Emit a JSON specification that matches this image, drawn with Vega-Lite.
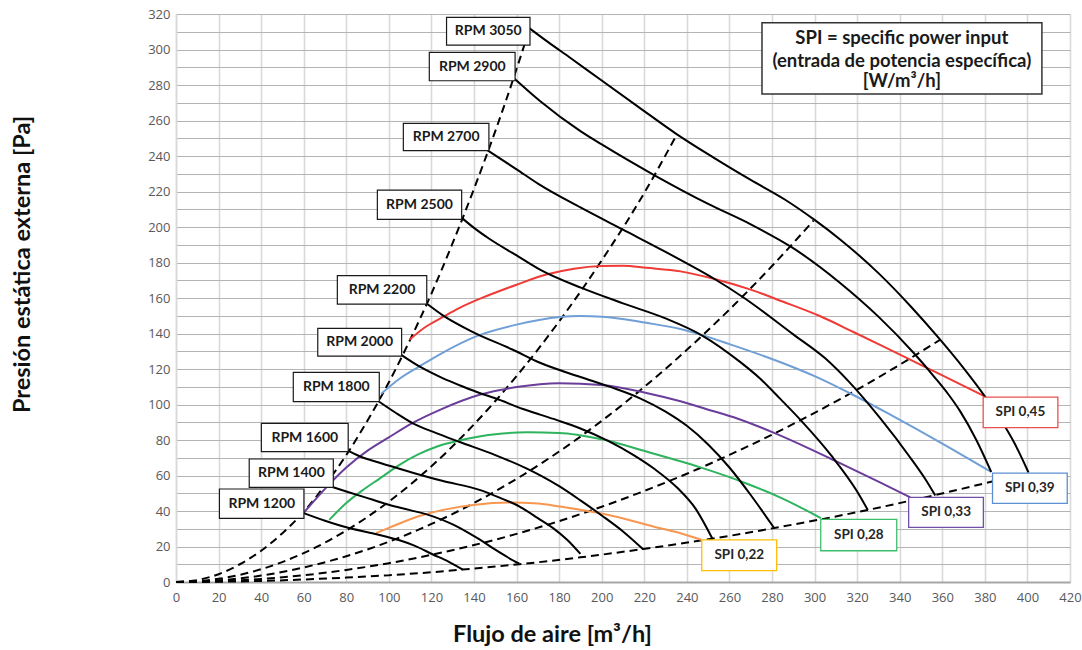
{
  "$schema": "https://vega.github.io/schema/vega-lite/v6.json",
  "width": 894,
  "height": 568,
  "autosize": {"type": "none"},
  "padding": {"left": 176, "top": 14, "right": 12, "bottom": 68},
  "background": "white",
  "config": {
    "view": {"stroke": null},
    "font": "Lato",
    "axis": {"ticks": false, "labelFont": "Open Sans", "labelFontSize": 13, "labelColor": "#595959", "titleFont": "Lato", "titleFontWeight": "bold", "titleFontSize": 23.5, "titleColor": "#111111"},
    "axisX": {"gridColor": "#d9d9d9", "gridWidth": 1.6, "domainColor": "#a6a6a6", "domainWidth": 2, "labelPadding": 9},
    "axisY": {"gridColor": "#b4b4b4", "gridWidth": 1.2, "domainColor": "#d9d9d9", "domainWidth": 1.5, "labelPadding": 6}
  },
  "datasets": {
    "sys": [
      {"c": "D1", "x": 0, "y": 0}, {"c": "D1", "x": 10, "y": 1.1}, {"c": "D1", "x": 20, "y": 4.4}, {"c": "D1", "x": 30, "y": 10}, {"c": "D1", "x": 40, "y": 17.6}, {"c": "D1", "x": 50, "y": 27.5}, {"c": "D1", "x": 60, "y": 39.5}, {"c": "D1", "x": 70, "y": 54.5}, {"c": "D1", "x": 80, "y": 71.5}, {"c": "D1", "x": 90, "y": 91}, {"c": "D1", "x": 100, "y": 112.5}, {"c": "D1", "x": 110, "y": 136.5}, {"c": "D1", "x": 120, "y": 162.5}, {"c": "D1", "x": 130, "y": 191}, {"c": "D1", "x": 140, "y": 221.5}, {"c": "D1", "x": 150, "y": 254}, {"c": "D1", "x": 160, "y": 289}, {"c": "D1", "x": 166, "y": 311.5},
      {"c": "D2", "x": 0, "y": 0}, {"c": "D2", "x": 20, "y": 1.8}, {"c": "D2", "x": 40, "y": 7.2}, {"c": "D2", "x": 60, "y": 16.3}, {"c": "D2", "x": 80, "y": 29}, {"c": "D2", "x": 100, "y": 45.3}, {"c": "D2", "x": 120, "y": 65.2}, {"c": "D2", "x": 140, "y": 88.8}, {"c": "D2", "x": 160, "y": 116}, {"c": "D2", "x": 180, "y": 146.8}, {"c": "D2", "x": 200, "y": 181.2}, {"c": "D2", "x": 220, "y": 219.2}, {"c": "D2", "x": 235, "y": 251.5},
      {"c": "D3", "x": 0, "y": 0}, {"c": "D3", "x": 20, "y": 0.9}, {"c": "D3", "x": 40, "y": 3.6}, {"c": "D3", "x": 60, "y": 8.2}, {"c": "D3", "x": 80, "y": 14.5}, {"c": "D3", "x": 100, "y": 22.7}, {"c": "D3", "x": 120, "y": 32.7}, {"c": "D3", "x": 140, "y": 44.5}, {"c": "D3", "x": 160, "y": 58.1}, {"c": "D3", "x": 180, "y": 73.5}, {"c": "D3", "x": 200, "y": 90.8}, {"c": "D3", "x": 220, "y": 109.9}, {"c": "D3", "x": 240, "y": 130.8}, {"c": "D3", "x": 260, "y": 153.5}, {"c": "D3", "x": 280, "y": 178}, {"c": "D3", "x": 299.5, "y": 203.6},
      {"c": "D4", "x": 0, "y": 0}, {"c": "D4", "x": 20, "y": 0.4}, {"c": "D4", "x": 40, "y": 1.7}, {"c": "D4", "x": 60, "y": 3.8}, {"c": "D4", "x": 80, "y": 6.8}, {"c": "D4", "x": 100, "y": 10.6}, {"c": "D4", "x": 120, "y": 15.3}, {"c": "D4", "x": 140, "y": 20.8}, {"c": "D4", "x": 160, "y": 27.1}, {"c": "D4", "x": 180, "y": 34.3}, {"c": "D4", "x": 200, "y": 42.4}, {"c": "D4", "x": 220, "y": 51.3}, {"c": "D4", "x": 240, "y": 61}, {"c": "D4", "x": 260, "y": 71.6}, {"c": "D4", "x": 280, "y": 83}, {"c": "D4", "x": 300, "y": 95.3}, {"c": "D4", "x": 320, "y": 108.4}, {"c": "D4", "x": 340, "y": 122.4}, {"c": "D4", "x": 359, "y": 136.5},
      {"c": "D5", "x": 0, "y": 0}, {"c": "D5", "x": 20, "y": 0.15}, {"c": "D5", "x": 40, "y": 0.6}, {"c": "D5", "x": 60, "y": 1.4}, {"c": "D5", "x": 80, "y": 2.5}, {"c": "D5", "x": 100, "y": 3.85}, {"c": "D5", "x": 120, "y": 5.5}, {"c": "D5", "x": 134.7, "y": 7}, {"c": "D5", "x": 161.3, "y": 10}, {"c": "D5", "x": 190, "y": 13.9}, {"c": "D5", "x": 219.6, "y": 18.6}, {"c": "D5", "x": 252, "y": 24.4}, {"c": "D5", "x": 281, "y": 30.4}, {"c": "D5", "x": 325, "y": 40.6}, {"c": "D5", "x": 356.7, "y": 49}, {"c": "D5", "x": 383.5, "y": 56.6}
    ],
    "rpm": [
      {"c": "1200", "x": 60, "y": 38.8}, {"c": "1200", "x": 70, "y": 34.5}, {"c": "1200", "x": 80, "y": 30.8}, {"c": "1200", "x": 90, "y": 28}, {"c": "1200", "x": 95.6, "y": 26.5}, {"c": "1200", "x": 105, "y": 23.5}, {"c": "1200", "x": 112, "y": 20.5}, {"c": "1200", "x": 120.7, "y": 15.5}, {"c": "1200", "x": 128, "y": 11.5}, {"c": "1200", "x": 134.7, "y": 7},
      {"c": "1400", "x": 73.5, "y": 53.5}, {"c": "1400", "x": 80, "y": 51}, {"c": "1400", "x": 92.5, "y": 46.3}, {"c": "1400", "x": 100, "y": 43.5}, {"c": "1400", "x": 110, "y": 40.5}, {"c": "1400", "x": 120.7, "y": 37}, {"c": "1400", "x": 130, "y": 32.5}, {"c": "1400", "x": 137, "y": 28}, {"c": "1400", "x": 142.6, "y": 24}, {"c": "1400", "x": 150, "y": 18.2}, {"c": "1400", "x": 156, "y": 13.8}, {"c": "1400", "x": 161.3, "y": 10.3},
      {"c": "1600", "x": 80.8, "y": 74}, {"c": "1600", "x": 86, "y": 71}, {"c": "1600", "x": 96, "y": 67}, {"c": "1600", "x": 110, "y": 62}, {"c": "1600", "x": 125, "y": 57}, {"c": "1600", "x": 142.6, "y": 51.9}, {"c": "1600", "x": 152, "y": 47.5}, {"c": "1600", "x": 161.4, "y": 42.5}, {"c": "1600", "x": 170, "y": 36}, {"c": "1600", "x": 177, "y": 30.5}, {"c": "1600", "x": 184, "y": 23.5}, {"c": "1600", "x": 190, "y": 15.8},
      {"c": "1800", "x": 95.3, "y": 101.7}, {"c": "1800", "x": 103, "y": 95.5}, {"c": "1800", "x": 111.3, "y": 89.4}, {"c": "1800", "x": 122, "y": 84}, {"c": "1800", "x": 133, "y": 79}, {"c": "1800", "x": 150, "y": 71.5}, {"c": "1800", "x": 164.6, "y": 64}, {"c": "1800", "x": 172, "y": 59.5}, {"c": "1800", "x": 180, "y": 54}, {"c": "1800", "x": 190, "y": 46}, {"c": "1800", "x": 200, "y": 37.5}, {"c": "1800", "x": 210, "y": 28.5}, {"c": "1800", "x": 219.6, "y": 18.3},
      {"c": "2000", "x": 105.8, "y": 128}, {"c": "2000", "x": 115, "y": 121}, {"c": "2000", "x": 125, "y": 115}, {"c": "2000", "x": 135, "y": 110}, {"c": "2000", "x": 142.6, "y": 106.5}, {"c": "2000", "x": 150, "y": 103.5}, {"c": "2000", "x": 163, "y": 97.5}, {"c": "2000", "x": 171, "y": 94.3}, {"c": "2000", "x": 180, "y": 90.8}, {"c": "2000", "x": 190, "y": 86.5}, {"c": "2000", "x": 203, "y": 79.5}, {"c": "2000", "x": 215, "y": 71.5}, {"c": "2000", "x": 225, "y": 63.5}, {"c": "2000", "x": 236, "y": 52.5}, {"c": "2000", "x": 244, "y": 41.5}, {"c": "2000", "x": 252, "y": 24.4},
      {"c": "2200", "x": 117.6, "y": 157}, {"c": "2200", "x": 125, "y": 150.5}, {"c": "2200", "x": 140, "y": 140.5}, {"c": "2200", "x": 158, "y": 131}, {"c": "2200", "x": 171, "y": 123.5}, {"c": "2200", "x": 190, "y": 115.5}, {"c": "2200", "x": 205, "y": 109.5}, {"c": "2200", "x": 218, "y": 103.5}, {"c": "2200", "x": 230, "y": 96}, {"c": "2200", "x": 240, "y": 88}, {"c": "2200", "x": 250, "y": 77.5}, {"c": "2200", "x": 260, "y": 64.5}, {"c": "2200", "x": 270, "y": 49}, {"c": "2200", "x": 281, "y": 30.4},
      {"c": "2500", "x": 134.4, "y": 205}, {"c": "2500", "x": 140, "y": 199.5}, {"c": "2500", "x": 147, "y": 193.5}, {"c": "2500", "x": 160, "y": 184}, {"c": "2500", "x": 171, "y": 176}, {"c": "2500", "x": 190.5, "y": 165.7}, {"c": "2500", "x": 210, "y": 157}, {"c": "2500", "x": 230, "y": 148.5}, {"c": "2500", "x": 247, "y": 139}, {"c": "2500", "x": 265, "y": 124}, {"c": "2500", "x": 274.5, "y": 114.5}, {"c": "2500", "x": 284, "y": 103}, {"c": "2500", "x": 294, "y": 90.5}, {"c": "2500", "x": 308, "y": 71}, {"c": "2500", "x": 320, "y": 51}, {"c": "2500", "x": 325, "y": 40.6},
      {"c": "2700", "x": 146.4, "y": 243.2}, {"c": "2700", "x": 160, "y": 232.5}, {"c": "2700", "x": 170.6, "y": 224}, {"c": "2700", "x": 190, "y": 211}, {"c": "2700", "x": 210, "y": 198.5}, {"c": "2700", "x": 230, "y": 186}, {"c": "2700", "x": 240, "y": 179.5}, {"c": "2700", "x": 253, "y": 170.7}, {"c": "2700", "x": 266.6, "y": 160.3}, {"c": "2700", "x": 290, "y": 139.5}, {"c": "2700", "x": 305, "y": 126}, {"c": "2700", "x": 316, "y": 113}, {"c": "2700", "x": 331, "y": 92}, {"c": "2700", "x": 345, "y": 70}, {"c": "2700", "x": 352, "y": 58}, {"c": "2700", "x": 356.7, "y": 48.7},
      {"c": "2900", "x": 158.9, "y": 283.7}, {"c": "2900", "x": 171, "y": 271}, {"c": "2900", "x": 190, "y": 254}, {"c": "2900", "x": 200, "y": 246.5}, {"c": "2900", "x": 224.4, "y": 229.4}, {"c": "2900", "x": 250, "y": 213}, {"c": "2900", "x": 270, "y": 201.5}, {"c": "2900", "x": 289.4, "y": 188.5}, {"c": "2900", "x": 312, "y": 168.5}, {"c": "2900", "x": 330, "y": 149.5}, {"c": "2900", "x": 346.6, "y": 129}, {"c": "2900", "x": 357, "y": 114.5}, {"c": "2900", "x": 363, "y": 105.5}, {"c": "2900", "x": 368.5, "y": 96}, {"c": "2900", "x": 376, "y": 80}, {"c": "2900", "x": 383, "y": 62},
      {"c": "3050", "x": 166, "y": 312}, {"c": "3050", "x": 175, "y": 304}, {"c": "3050", "x": 185, "y": 295.5}, {"c": "3050", "x": 200, "y": 282.5}, {"c": "3050", "x": 218, "y": 267}, {"c": "3050", "x": 235, "y": 252.5}, {"c": "3050", "x": 252, "y": 239.5}, {"c": "3050", "x": 270, "y": 226.5}, {"c": "3050", "x": 286, "y": 215.5}, {"c": "3050", "x": 300, "y": 204}, {"c": "3050", "x": 312, "y": 193}, {"c": "3050", "x": 330, "y": 174}, {"c": "3050", "x": 345, "y": 155.5}, {"c": "3050", "x": 359, "y": 136.5}, {"c": "3050", "x": 370, "y": 120.5}, {"c": "3050", "x": 380, "y": 104.6}, {"c": "3050", "x": 387.4, "y": 91.5}, {"c": "3050", "x": 394, "y": 78}, {"c": "3050", "x": 400.5, "y": 61.7}
    ],
    "spi": [
      {"c": "SPI 0,45", "x": 109.7, "y": 136.5}, {"c": "SPI 0,45", "x": 117, "y": 143.5}, {"c": "SPI 0,45", "x": 125.4, "y": 149.3}, {"c": "SPI 0,45", "x": 133, "y": 154.3}, {"c": "SPI 0,45", "x": 142.6, "y": 159.5}, {"c": "SPI 0,45", "x": 160, "y": 167.5}, {"c": "SPI 0,45", "x": 174, "y": 173.2}, {"c": "SPI 0,45", "x": 187, "y": 176.5}, {"c": "SPI 0,45", "x": 199.8, "y": 178}, {"c": "SPI 0,45", "x": 210, "y": 178.2}, {"c": "SPI 0,45", "x": 221, "y": 177}, {"c": "SPI 0,45", "x": 237, "y": 175}, {"c": "SPI 0,45", "x": 253, "y": 170.7}, {"c": "SPI 0,45", "x": 270, "y": 164.7}, {"c": "SPI 0,45", "x": 285, "y": 158}, {"c": "SPI 0,45", "x": 302.7, "y": 149.7}, {"c": "SPI 0,45", "x": 318, "y": 141}, {"c": "SPI 0,45", "x": 331, "y": 133.5}, {"c": "SPI 0,45", "x": 351.3, "y": 121.5}, {"c": "SPI 0,45", "x": 365, "y": 113.5}, {"c": "SPI 0,45", "x": 380, "y": 104.6},
      {"c": "SPI 0,39", "x": 96.4, "y": 106}, {"c": "SPI 0,39", "x": 105, "y": 114.5}, {"c": "SPI 0,39", "x": 114.4, "y": 121.5}, {"c": "SPI 0,39", "x": 125, "y": 129}, {"c": "SPI 0,39", "x": 141, "y": 138.4}, {"c": "SPI 0,39", "x": 160, "y": 145}, {"c": "SPI 0,39", "x": 180.3, "y": 149.3}, {"c": "SPI 0,39", "x": 190, "y": 149.8}, {"c": "SPI 0,39", "x": 200, "y": 149.5}, {"c": "SPI 0,39", "x": 221, "y": 146}, {"c": "SPI 0,39", "x": 237, "y": 142.5}, {"c": "SPI 0,39", "x": 246, "y": 139.5}, {"c": "SPI 0,39", "x": 260, "y": 134}, {"c": "SPI 0,39", "x": 275, "y": 127.8}, {"c": "SPI 0,39", "x": 290, "y": 121}, {"c": "SPI 0,39", "x": 300, "y": 116}, {"c": "SPI 0,39", "x": 318, "y": 105.5}, {"c": "SPI 0,39", "x": 336, "y": 94}, {"c": "SPI 0,39", "x": 360, "y": 78}, {"c": "SPI 0,39", "x": 383, "y": 62},
      {"c": "SPI 0,33", "x": 60, "y": 39}, {"c": "SPI 0,33", "x": 70, "y": 52.5}, {"c": "SPI 0,33", "x": 80, "y": 64.5}, {"c": "SPI 0,33", "x": 90, "y": 74}, {"c": "SPI 0,33", "x": 100, "y": 81.5}, {"c": "SPI 0,33", "x": 111, "y": 89.5}, {"c": "SPI 0,33", "x": 124, "y": 97}, {"c": "SPI 0,33", "x": 143, "y": 105.6}, {"c": "SPI 0,33", "x": 160, "y": 109.8}, {"c": "SPI 0,33", "x": 180, "y": 112}, {"c": "SPI 0,33", "x": 200, "y": 111}, {"c": "SPI 0,33", "x": 221, "y": 106.5}, {"c": "SPI 0,33", "x": 237, "y": 101.8}, {"c": "SPI 0,33", "x": 249, "y": 97.5}, {"c": "SPI 0,33", "x": 264, "y": 92}, {"c": "SPI 0,33", "x": 281, "y": 84}, {"c": "SPI 0,33", "x": 296, "y": 76}, {"c": "SPI 0,33", "x": 310.5, "y": 67.8}, {"c": "SPI 0,33", "x": 330, "y": 56.5}, {"c": "SPI 0,33", "x": 345, "y": 47.7},
      {"c": "SPI 0,28", "x": 72, "y": 35}, {"c": "SPI 0,28", "x": 80, "y": 44.5}, {"c": "SPI 0,28", "x": 88, "y": 52}, {"c": "SPI 0,28", "x": 95.8, "y": 58.4}, {"c": "SPI 0,28", "x": 105, "y": 66}, {"c": "SPI 0,28", "x": 114, "y": 72}, {"c": "SPI 0,28", "x": 123, "y": 76.5}, {"c": "SPI 0,28", "x": 133, "y": 79.7}, {"c": "SPI 0,28", "x": 150, "y": 83.3}, {"c": "SPI 0,28", "x": 165, "y": 84.3}, {"c": "SPI 0,28", "x": 180, "y": 84}, {"c": "SPI 0,28", "x": 200, "y": 80.4}, {"c": "SPI 0,28", "x": 221, "y": 73.5}, {"c": "SPI 0,28", "x": 237, "y": 68}, {"c": "SPI 0,28", "x": 246, "y": 64.7}, {"c": "SPI 0,28", "x": 268, "y": 55.5}, {"c": "SPI 0,28", "x": 285, "y": 47}, {"c": "SPI 0,28", "x": 303, "y": 36},
      {"c": "SPI 0,22", "x": 94, "y": 27.5}, {"c": "SPI 0,22", "x": 100, "y": 30.5}, {"c": "SPI 0,22", "x": 114.4, "y": 37.2}, {"c": "SPI 0,22", "x": 125, "y": 40.5}, {"c": "SPI 0,22", "x": 139.5, "y": 43.4}, {"c": "SPI 0,22", "x": 156.7, "y": 44.8}, {"c": "SPI 0,22", "x": 170, "y": 44.2}, {"c": "SPI 0,22", "x": 180.3, "y": 42.5}, {"c": "SPI 0,22", "x": 205.3, "y": 37.2}, {"c": "SPI 0,22", "x": 225, "y": 31}, {"c": "SPI 0,22", "x": 237, "y": 27.5}, {"c": "SPI 0,22", "x": 247, "y": 23.7}
    ],
    "rpmBoxes": [
      {"label": "RPM 3050", "x": 127.1, "xe": 166.3, "y": 302.5, "ye": 318.1},
      {"label": "RPM 2900", "x": 119, "xe": 159.3, "y": 282.4, "ye": 298.4},
      {"label": "RPM 2700", "x": 106.8, "xe": 147, "y": 243, "ye": 258.4},
      {"label": "RPM 2500", "x": 94.6, "xe": 134.2, "y": 204.3, "ye": 220.8},
      {"label": "RPM 2200", "x": 75.8, "xe": 117.8, "y": 156.6, "ye": 172.6},
      {"label": "RPM 2000", "x": 66.6, "xe": 106, "y": 127.3, "ye": 142.9},
      {"label": "RPM 1800", "x": 55.1, "xe": 95.5, "y": 101.6, "ye": 118.1},
      {"label": "RPM 1600", "x": 40.1, "xe": 80.9, "y": 73.4, "ye": 89.4},
      {"label": "RPM 1400", "x": 34.4, "xe": 73.9, "y": 53.3, "ye": 69.3},
      {"label": "RPM 1200", "x": 20.4, "xe": 60.1, "y": 35.9, "ye": 52.4}
    ],
    "rpmText": [
      {"label": "RPM 3050", "x": 146.7, "y": 310.3},
      {"label": "RPM 2900", "x": 139.2, "y": 290.4},
      {"label": "RPM 2700", "x": 126.9, "y": 250.7},
      {"label": "RPM 2500", "x": 114.4, "y": 212.5},
      {"label": "RPM 2200", "x": 96.8, "y": 164.6},
      {"label": "RPM 2000", "x": 86.3, "y": 135.1},
      {"label": "RPM 1800", "x": 75.3, "y": 109.9},
      {"label": "RPM 1600", "x": 60.5, "y": 81.4},
      {"label": "RPM 1400", "x": 54.2, "y": 61.3},
      {"label": "RPM 1200", "x": 40.3, "y": 44.2}
    ],
    "spiBoxes": [
      {"c": "SPI 0,45", "x": 379.2, "xe": 414.3, "y": 87, "ye": 104.2},
      {"c": "SPI 0,39", "x": 383.6, "xe": 418.7, "y": 44.3, "ye": 61.3},
      {"c": "SPI 0,33", "x": 344.2, "xe": 379.3, "y": 30.8, "ye": 47.7},
      {"c": "SPI 0,28", "x": 302.9, "xe": 338.6, "y": 17.6, "ye": 35.3},
      {"c": "SPI 0,22", "x": 247, "xe": 282.2, "y": 6.4, "ye": 23.7}
    ],
    "spiText": [
      {"c": "SPI 0,45", "x": 396.7, "y": 95.6},
      {"c": "SPI 0,39", "x": 401.1, "y": 52.8},
      {"c": "SPI 0,33", "x": 361.8, "y": 39.3},
      {"c": "SPI 0,28", "x": 320.8, "y": 26.5},
      {"c": "SPI 0,22", "x": 264.6, "y": 15}
    ],
    "infoBox": [{"x": 275.3, "xe": 406.8, "y": 275, "ye": 315.1}],
    "infoText": [
      {"t": "SPI = specific power input", "x": 341, "y": 306.5},
      {"t": "(entrada de potencia específica)", "x": 341, "y": 293.5},
      {"t": "[W/m³/h]", "x": 341, "y": 282}
    ]
  },
  "encoding": {
    "x": {"field": "x", "type": "quantitative", "scale": {"domain": [0, 420], "nice": false, "zero": false},
      "axis": {"values": [0,20,40,60,80,100,120,140,160,180,200,220,240,260,280,300,320,340,360,380,400,420], "title": "Flujo de aire [m³/h]", "titleX": 376, "titleY": 59, "titleAlign": "center", "titleBaseline": "alphabetic", "labelFlush": false}},
    "y": {"field": "y", "type": "quantitative", "scale": {"domain": [0, 320], "nice": false, "zero": false},
      "axis": {"values": [0,10,20,30,40,50,60,70,80,90,100,110,120,130,140,150,160,170,180,190,200,210,220,230,240,250,260,270,280,290,300,310,320], "labelExpr": "datum.value % 20 === 0 ? datum.label : ''", "title": "Presión estática externa [Pa]", "titleX": -147, "titleY": 250, "titleAngle": 270, "titleAlign": "center", "titleBaseline": "alphabetic", "labelFlush": false}}
  },
  "layer": [
    {"data": {"name": "sys"}, "mark": {"type": "line", "color": "#000000", "strokeWidth": 2, "strokeDash": [8, 5], "interpolate": "monotone"}, "encoding": {"detail": {"field": "c"}}},
    {"data": {"name": "spi"}, "mark": {"type": "line", "strokeWidth": 2, "interpolate": "monotone"}, "encoding": {"color": {"field": "c", "type": "nominal", "legend": null, "scale": {"domain": ["SPI 0,45", "SPI 0,39", "SPI 0,33", "SPI 0,28", "SPI 0,22"], "range": ["#f03a35", "#6f9fd6", "#6a3d9a", "#2eb35e", "#f7964f"]}}}},
    {"data": {"name": "rpm"}, "mark": {"type": "line", "color": "#000000", "strokeWidth": 2, "interpolate": "monotone"}, "encoding": {"detail": {"field": "c"}}},
    {"data": {"name": "rpmBoxes"}, "mark": {"type": "rect", "fill": "white", "stroke": "#1a1a1a", "strokeWidth": 1.2}, "encoding": {"x2": {"field": "xe"}, "y2": {"field": "ye"}}},
    {"data": {"name": "spiBoxes"}, "mark": {"type": "rect", "fill": "white", "strokeWidth": 1.3}, "encoding": {"x2": {"field": "xe"}, "y2": {"field": "ye"}, "stroke": {"field": "c", "type": "nominal", "legend": null, "scale": {"domain": ["SPI 0,45", "SPI 0,39", "SPI 0,33", "SPI 0,28", "SPI 0,22"], "range": ["#e8504f", "#5b8fd0", "#7050a8", "#3cbf6a", "#ffc000"]}}}},
    {"data": {"name": "infoBox"}, "mark": {"type": "rect", "fill": "white", "stroke": "#333333", "strokeWidth": 1.5}, "encoding": {"x2": {"field": "xe"}, "y2": {"field": "ye"}}},
    {"data": {"name": "rpmText"}, "mark": {"type": "text", "font": "Lato", "fontWeight": "bold", "fontSize": 14, "color": "#1a1a1a", "align": "center", "baseline": "middle"}, "encoding": {"text": {"field": "label"}}},
    {"data": {"name": "spiText"}, "mark": {"type": "text", "font": "Lato", "fontWeight": "bold", "fontSize": 13.5, "color": "#262626", "align": "center", "baseline": "middle"}, "encoding": {"text": {"field": "c"}}},
    {"data": {"name": "infoText"}, "mark": {"type": "text", "font": "Lato", "fontWeight": "bold", "fontSize": 18.5, "color": "#1a1a1a", "align": "center", "baseline": "middle"}, "encoding": {"text": {"field": "t"}}}
  ]
}
